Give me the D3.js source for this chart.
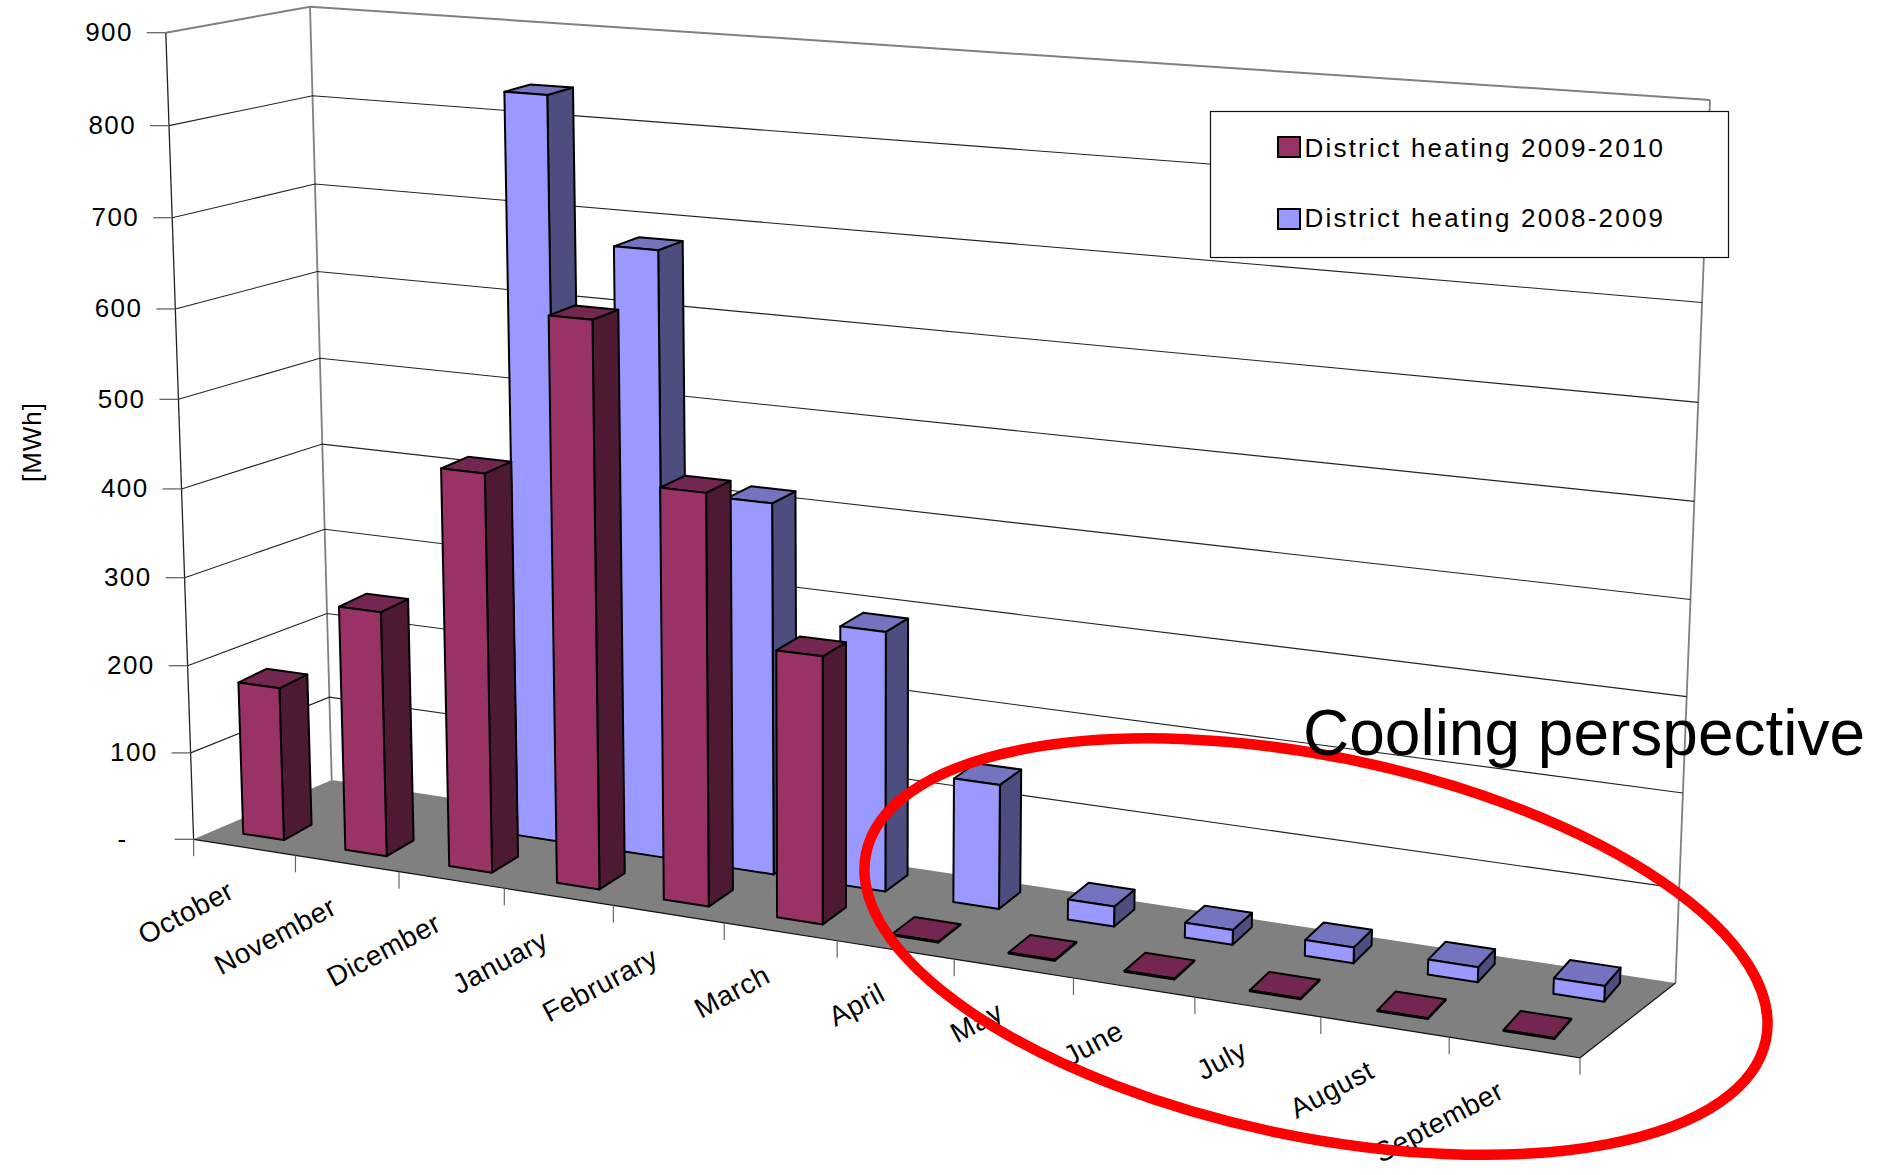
<!DOCTYPE html>
<html>
<head>
<meta charset="utf-8">
<title>District heating</title>
<script src="https://cdnjs.cloudflare.com/ajax/libs/d3/7.8.5/d3.min.js"></script>
<style>
  html, body { margin: 0; padding: 0; background: #fff; }
  svg { display: block; }
  text { font-family: "Liberation Sans", Arial, sans-serif; fill: #000; }
</style>
</head>
<body>
<svg id="chart" width="1886" height="1175"></svg>
<script>
// Monthly values in MWh
const categories = ["October","November","Dicember","January","Februrary","March","April","May","June","July","August","September"];
const heating0910 = [175, 277, 445, 623, 451, 291, 1, 1, 1, 1, 1, 1];
const heating0809 = [0, 0, 835, 677, 414, 288, 137, 22, 16, 17, 16, 16.5];
const seriesNames = ["District heating 2009-2010", "District heating 2008-2009"];
const valueTicks = [0, 100, 200, 300, 400, 500, 600, 700, 800, 900];
const valueTickLabels = ["-", "100", "200", "300", "400", "500", "600", "700", "800", "900"];
const annotation = "Cooling perspective";

const svg = d3.select("#chart");

// Corners of the chart box as seen by the camera
const floorQuad = { fl: [193.6, 839.3], fr: [1580, 1057.8], br: [1675.5, 983], bl: [331.7, 780] };
const ceilQuad  = { fl: [165.8, 32.7],  fr: [1616, 133.5],  br: [1710, 100],   bl: [310, 6.7] };
const verticalPerspective = -0.04;

// Lens correction along the months: small offsets of u at the front edge and in each bar row
const edgeLens  = d3.scaleLinear().domain([0, .25, .5, .75, 1]).range([0, -.0067, -.0091, -.0068, 0]);
const frontLens = d3.scaleLinear().domain([0, .19, .275, .36, .44, .61, .69, .86, 1])
  .range([-.002, -.0066, -.007, -.0095, -.0085, -.0074, -.009, -.002, -.001]);
const backLens  = d3.scaleLinear().domain([0, .2, .28, .36, .45, .55, .65, .8, 1])
  .range([0, -.0053, -.0075, -.0075, -.007, -.0065, -.0065, -.0045, 0]);

function lensU(u, d) {
  if (d <= 0.16) return u + edgeLens(u) + (frontLens(u) - edgeLens(u)) * (d / 0.16);
  if (d <= 0.40) return u + frontLens(u);
  if (d >= 0.66) return u + backLens(u);
  return u + frontLens(u) + (backLens(u) - frontLens(u)) * ((d - 0.40) / 0.26);
}

// Maps the unit square (u along the months, d into the depth) onto a quadrilateral
function squareToQuad(q) {
  const [x0, y0] = q.fl, [x1, y1] = q.fr, [x2, y2] = q.br, [x3, y3] = q.bl;
  const dx1 = x1 - x2, dx2 = x3 - x2, sx = x0 - x1 + x2 - x3;
  const dy1 = y1 - y2, dy2 = y3 - y2, sy = y0 - y1 + y2 - y3;
  const den = dx1 * dy2 - dx2 * dy1;
  const g = (sx * dy2 - dx2 * sy) / den;
  const h = (dx1 * sy - sx * dy1) / den;
  const a = x1 - x0 + g * x1, b = x3 - x0 + h * x3;
  const d = y1 - y0 + g * y1, e = y3 - y0 + h * y3;
  return (u, v) => {
    const w = g * u + h * v + 1;
    return [(a * u + b * v + x0) / w, (d * u + e * v + y0) / w];
  };
}
const floorAt = squareToQuad(floorQuad);
const ceilAt = squareToQuad(ceilQuad);

// 3D point: u across, d into depth, t = 0..1 of the value axis
function project(u, d, t) {
  const s = t * (1 + verticalPerspective) / (1 + verticalPerspective * t);
  const ul = lensU(u, d);
  const f = floorAt(ul, d), c = ceilAt(ul, d);
  return [f[0] + (c[0] - f[0]) * s, f[1] + (c[1] - f[1]) * s];
}

const uScale = d3.scaleBand().domain(categories).range([0, 1]);
const vScale = d3.scaleLinear().domain([0, 900]).range([0, 1]);
const polyLine = d3.line();

const colors = {
  maroon: { front: "#993366", side: "#4d1933", top: "#732650" },
  blue:   { front: "#9999ff", side: "#4d4d80", top: "#7373bf" }
};

// Walls: outer frame edges
const wall = svg.append("g").attr("fill", "none");
wall.append("path").attr("d", polyLine([project(0,0,1), project(0,1,1), project(1,1,1)]))
  .attr("stroke", "#808080").attr("stroke-width", 2);
wall.append("path").attr("d", polyLine([project(0,1,0), project(0,1,1)]))
  .attr("stroke", "#808080").attr("stroke-width", 1.8);
wall.append("path").attr("d", polyLine([project(1,1,0), project(1,1,1)]))
  .attr("stroke", "#808080").attr("stroke-width", 1.8);

// Gridlines on the left and back walls
const grid = svg.append("g").attr("fill", "none").attr("stroke", "#222").attr("stroke-width", 1.1);
valueTicks.filter(v => v > 0 && v < 900).forEach(v => {
  const t = vScale(v);
  grid.append("path").attr("d", polyLine([project(0,0,t), project(0,1,t), project(1,1,t)]));
});

// Floor
svg.append("path")
  .attr("d", polyLine([project(0,0,0), project(1,0,0), project(1,1,0), project(0,1,0)]) + "Z")
  .attr("fill", "#808080");
svg.append("path")
  .attr("d", polyLine([project(0,0,0), ...d3.range(1, 13).map(i => project(i * uScale.step(), 0, 0)), project(1,1,0)]))
  .attr("fill", "none").attr("stroke", "#111").attr("stroke-width", 1.2);

// Value axis with its ticks and labels
const axis = svg.append("g");
axis.append("path").attr("d", polyLine([project(0,0,0), project(0,0,1)]))
  .attr("fill", "none").attr("stroke", "#222").attr("stroke-width", 1.3);
valueTicks.forEach((v, i) => {
  const [x, y] = project(0, 0, vScale(v));
  axis.append("line").attr("x1", x - 19).attr("x2", x).attr("y1", y).attr("y2", y)
    .attr("stroke", "#666").attr("stroke-width", 1.3);
  axis.append("text").attr("x", v === 0 ? x - 66 : x - 33).attr("y", y + 8.5)
    .attr("text-anchor", "end").attr("font-size", 26).attr("letter-spacing", 1.4)
    .text(valueTickLabels[i]);
});
svg.append("text").attr("transform", "translate(41,442) rotate(-90)")
  .attr("text-anchor", "middle").attr("font-size", 26).attr("letter-spacing", 1)
  .text("[MWh]");

// Month ticks and labels along the front edge
const monthAxis = svg.append("g");
d3.range(categories.length + 1).forEach(i => {
  const [x, y] = project(i * uScale.step(), 0, 0);
  monthAxis.append("line").attr("x1", x).attr("x2", x).attr("y1", y).attr("y2", y + 17)
    .attr("stroke", "#666").attr("stroke-width", 1.2);
});
categories.forEach(c => {
  const [x, y] = project(uScale(c) + uScale.bandwidth() / 2, 0, 0);
  monthAxis.append("text")
    .attr("transform", `translate(${x - 12},${y + 43}) rotate(-28)`)
    .attr("text-anchor", "end").attr("dominant-baseline", "middle")
    .attr("font-size", 28).attr("letter-spacing", 0.5).text(c);
});

// One bar: front, side and top faces, drawn from its value
function drawBar(g, category, value, dNear, dFar, palette) {
  if (value <= 0) return;
  const step = uScale.step();
  const u0 = uScale(category) + step * 0.29;
  const u1 = uScale(category) + step * 0.69;
  const lean = step * 0.055;          // the far edge sits slightly to the left
  const t = vScale(value);
  const face = (pts, fill) => g.append("path").attr("d", polyLine(pts) + "Z").attr("fill", fill)
    .attr("stroke", "#000").attr("stroke-width", 2).attr("stroke-linejoin", "round");
  face([project(u1,dNear,0), project(u1-lean,dFar,0), project(u1-lean,dFar,t), project(u1,dNear,t)], palette.side);
  face([project(u0,dNear,t), project(u1,dNear,t), project(u1-lean,dFar,t), project(u0-lean,dFar,t)], palette.top);
  face([project(u0,dNear,0), project(u1,dNear,0), project(u1,dNear,t), project(u0,dNear,t)], palette.front);
}

const backRow = svg.append("g");
categories.forEach((c, i) => drawBar(backRow, c, heating0809[i], 0.66, 0.90, colors.blue));
const frontRow = svg.append("g");
categories.forEach((c, i) => drawBar(frontRow, c, heating0910[i], 0.16, 0.40, colors.maroon));

// Legend
const legend = svg.append("g");
legend.append("rect").attr("x", 1210.5).attr("y", 111.5).attr("width", 518).attr("height", 146)
  .attr("fill", "#fff").attr("stroke", "#111").attr("stroke-width", 1.2);
[[colors.maroon.front, 137, 156.5], [colors.blue.front, 209, 226.7]].forEach(([fill, top, base], i) => {
  legend.append("rect").attr("x", 1278).attr("y", top).attr("width", 22).attr("height", 20)
    .attr("fill", fill).attr("stroke", "#000").attr("stroke-width", 2);
  legend.append("text").attr("x", 1304.5).attr("y", base)
    .attr("font-size", 26).attr("letter-spacing", 2.2).text(seriesNames[i]);
});

// Highlight ring around the summer months
svg.append("ellipse").attr("cx", 1316).attr("cy", 946.6).attr("rx", 459.5).attr("ry", 190)
  .attr("transform", "rotate(11.75 1316 946.6)")
  .attr("fill", "none").attr("stroke", "#ff0000").attr("stroke-width", 10.5);

svg.append("text").attr("x", 1303).attr("y", 755).attr("font-size", 64).text(annotation);
</script>
</body>
</html>
